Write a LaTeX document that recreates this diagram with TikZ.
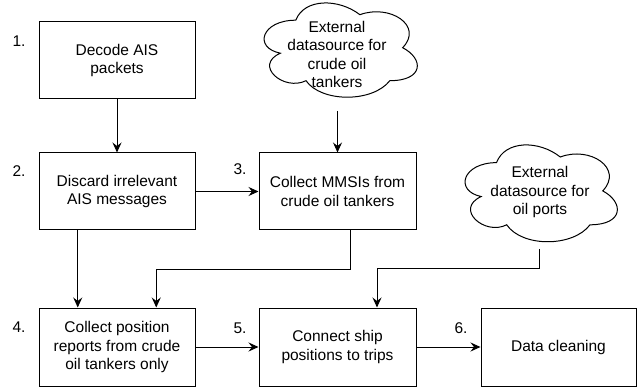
\documentclass[tikz,border=0pt]{standalone}
\usepackage{fontspec}
\setmainfont{Liberation Sans}
\usetikzlibrary{arrows.meta,calc}
\begin{document}
\begin{tikzpicture}[x=1pt,y=-1pt,
  every node/.style={font=\fontsize{15.5pt}{18.5pt}\selectfont},
  box/.style={draw, line width=1pt, align=center, inner sep=0pt, minimum width=156pt, minimum height=77pt},
  txt/.style={align=center, inner sep=0pt},
  arr/.style={line width=1pt, -{Stealth[length=10pt,width=9pt,inset=3.5pt]}},
  num/.style={anchor=base, inner sep=0pt},
  cloudline/.style={line width=1pt}]
\useasboundingbox (0,0) rectangle (637,387);

% boxes
\node[box] (b1) at (117,60.5) {Decode AIS\\packets};
\node[box] (b2) at (117,191.5) {Discard irrelevant\\AIS messages};
\node[box, minimum width=157pt] (b3) at (337.5,191.5) {Collect MMSIs from\\crude oil tankers};
\node[box, minimum height=78pt] (b4) at (117,347) {Collect position\\reports from crude\\oil tankers only};
\node[box, minimum width=157pt, minimum height=78pt] (b5) at (337.5,347) {Connect ship\\positions to trips};
\node[box, minimum width=155pt, minimum height=78pt] (b6) at (558.5,347) {Data cleaning};

% clouds
\begin{scope}[shift={(253,-7.3)}, x=171pt, y=-110pt]
\draw[cloudline] (0.25,0.25) .. controls (0.05,0.25) and (0,0.5) .. (0.16,0.55)
 .. controls (0,0.66) and (0.18,0.9) .. (0.31,0.8)
 .. controls (0.4,1) and (0.7,1) .. (0.8,0.8)
 .. controls (1,0.8) and (1,0.6) .. (0.875,0.5)
 .. controls (1,0.3) and (0.8,0.1) .. (0.625,0.2)
 .. controls (0.5,0.05) and (0.3,0.05) .. (0.25,0.25) -- cycle;
\end{scope}
\begin{scope}[shift={(454,134.4)}, x=170pt, y=-113pt]
\draw[cloudline] (0.25,0.25) .. controls (0.05,0.25) and (0,0.5) .. (0.16,0.55)
 .. controls (0,0.66) and (0.18,0.9) .. (0.31,0.8)
 .. controls (0.4,1) and (0.7,1) .. (0.8,0.8)
 .. controls (1,0.8) and (1,0.6) .. (0.875,0.5)
 .. controls (1,0.3) and (0.8,0.1) .. (0.625,0.2)
 .. controls (0.5,0.05) and (0.3,0.05) .. (0.25,0.25) -- cycle;
\end{scope}
\node[txt] (c1) at (337,54.5) {External\\datasource for\\crude oil\\tankers};
\node[txt] (c2) at (540,192) {External\\datasource for\\oil ports};
\coordinate (c1b) at (337.5,111);
\coordinate (c2b) at (539,249);

% step numbers
\node[num] (n1) at (19,46.5) {1.};
\node[num] (n2) at (19,176.5) {2.};
\node[num] (n3) at (240,174.5) {3.};
\node[num] (n4) at (19,332.5) {4.};
\node[num] (n5) at (240,333.5) {5.};
\node[num] (n6) at (461,333) {6.};

% connectors
\draw[arr] (b1) -- (b2);
\draw[arr] (b2) -- (b3);
\draw[arr] (c1b) -- (b3.north);
\draw[arr] ($(b2.south west)!0.25!(b2.south east)$) -- ($(b4.north west)!0.25!(b4.north east)$);
\draw[arr] ($(b3.south west)+(92pt,0)$) -- ++(0,39) -| ($(b4.north west)!0.75!(b4.north east)$);
\draw[arr] (c2b) -- ++(0,20) -| ($(b5.north west)!0.75!(b5.north east)$);
\draw[arr] (b4) -- (b5);
\draw[arr] (b5) -- (b6);
\end{tikzpicture}
\end{document}
